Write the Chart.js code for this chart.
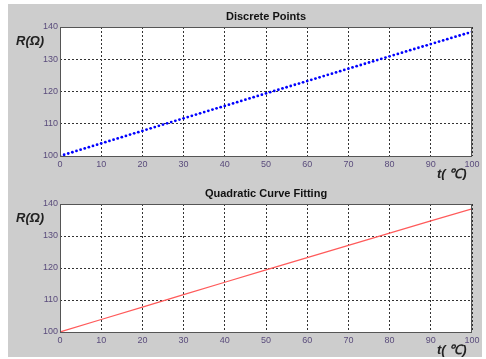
<!DOCTYPE html>
<html><head><meta charset="utf-8">
<script src="https://cdn.jsdelivr.net/npm/chart.js@4"></script>
<style>
html,body{margin:0;padding:0;background:#fff;width:486px;height:359px;overflow:hidden}
#bg{position:absolute;left:8px;top:4px;width:474px;height:353px;background:#cdcdcd}
canvas{position:absolute;left:0}
#c1{top:0}
#c2{top:180px}
</style></head><body>
<div id="bg"></div>
<canvas id="c1" width="486" height="180"></canvas>
<canvas id="c2" width="486" height="179"></canvas>
<script>
const temps = [0,1,2,3,4,5,6,7,8,9,10,11,12,13,14,15,16,17,18,19,20,21,22,23,24,25,26,27,28,29,30,31,32,33,34,35,36,37,38,39,40,41,42,43,44,45,46,47,48,49,50,51,52,53,54,55,56,57,58,59,60,61,62,63,64,65,66,67,68,69,70,71,72,73,74,75,76,77,78,79,80,81,82,83,84,85,86,87,88,89,90,91,92,93,94,95,96,97,98,99,100];
const resistance = [100.00,100.39,100.78,101.17,101.56,101.95,102.34,102.73,103.12,103.51,103.90,104.29,104.68,105.07,105.46,105.85,106.24,106.63,107.02,107.40,107.79,108.18,108.57,108.96,109.35,109.73,110.12,110.51,110.90,111.29,111.67,112.06,112.45,112.83,113.22,113.61,114.00,114.38,114.77,115.15,115.54,115.93,116.31,116.70,117.08,117.47,117.86,118.24,118.63,119.01,119.40,119.78,120.17,120.55,120.94,121.32,121.71,122.09,122.47,122.86,123.24,123.63,124.01,124.39,124.78,125.16,125.54,125.93,126.31,126.69,127.08,127.46,127.84,128.22,128.61,128.99,129.37,129.75,130.13,130.52,130.90,131.28,131.66,132.04,132.42,132.80,133.18,133.57,133.95,134.33,134.71,135.09,135.47,135.85,136.23,136.61,136.99,137.37,137.75,138.13,138.51];
const fitT = [0,10,20,30,40,50,60,70,80,90,100];
const fitR = [100.00,103.90,107.79,111.67,115.54,119.40,123.24,127.08,130.90,134.71,138.51];
const xTicks = [0,10,20,30,40,50,60,70,80,90,100];
const yTicks = [100,110,120,130,140];
const titles = ['Discrete Points','Quadratic Curve Fitting'];
const yLabel = 'R(\u03A9)';
const xLabel = 't( \u2103)';

const FONT = '"Liberation Sans", Arial, sans-serif';
const tickColor = '#5a4c7c';

function decorPlugin(title, titleY, yLabY, xLabY){
  return {
    id:'decor',
    beforeDraw(chart){
      const a = chart.chartArea, ctx = chart.ctx;
      ctx.save();
      ctx.fillStyle = '#ffffff';
      ctx.fillRect(a.left, a.top, a.right-a.left, a.bottom-a.top);
      ctx.restore();
    },
    afterDraw(chart){
      const a = chart.chartArea, ctx = chart.ctx;
      ctx.save();
      ctx.strokeStyle = '#555';
      ctx.lineWidth = 1;
      ctx.setLineDash([]);
      ctx.strokeRect(a.left+0.5, a.top+0.5, a.right-a.left-1, a.bottom-a.top);
      ctx.fillStyle = '#111';
      ctx.font = 'bold 11px ' + FONT;
      ctx.textAlign = 'center';
      ctx.textBaseline = 'alphabetic';
      ctx.fillText(title, (a.left+a.right)/2, titleY);
      ctx.font = 'italic bold 13px ' + FONT;
      ctx.fillStyle = '#222';
      ctx.textAlign = 'left';
      ctx.fillText(yLabel, 16, yLabY);
      ctx.fillText(xLabel, 437, xLabY);
      ctx.restore();
    }
  };
}

function makeChart(id, datasets, title, padTop, padBottom, titleY, yLabY, xLabY){
  return new Chart(document.getElementById(id), {
    type:'scatter',
    data:{datasets},
    options:{
      responsive:false, animation:false,
      layout:{padding:{left:30, right:14, top:padTop, bottom:padBottom}},
      plugins:{legend:{display:false}, tooltip:{enabled:false}},
      scales:{
        x:{type:'linear', min:0, max:100,
          afterFit(s){s.height=20;},
          afterBuildTicks(s){s.ticks = xTicks.map(v=>({value:v}));},
          grid:{color:'#333', lineWidth:1, drawTicks:false},
          border:{display:false, dash:[2,2]},
          ticks:{padding:3, color:tickColor, font:{family:FONT, size:9}, maxRotation:0}
        },
        y:{type:'linear', min:100, max:140,
          afterFit(s){s.width=30;},
          afterBuildTicks(s){s.ticks = yTicks.map(v=>({value:v}));},
          grid:{color:'#333', lineWidth:1, drawTicks:false},
          border:{display:false, dash:[2,2]},
          ticks:{padding:2, color:tickColor, font:{family:FONT, size:9}}
        }
      }
    },
    plugins:[decorPlugin(title, titleY, yLabY, xLabY)]
  });
}

Chart.defaults.font.family = FONT;

const pts = temps.map((t,i)=>({x:t, y:resistance[i]}));
const fit = fitT.map((t,i)=>({x:t, y:fitR[i]}));

makeChart('c1', [{
  data:pts, showLine:false, pointRadius:1.4, pointBackgroundColor:'#0000ff', pointBorderWidth:0
}], titles[0], 27, 4, 20, 45, 178);

makeChart('c2', [{
  data:fit, showLine:true, pointRadius:0, borderColor:'#ff5a5a', borderWidth:1.2, tension:0
}], titles[1], 24, 7, 17, 42, 174);
</script>
</body></html>
